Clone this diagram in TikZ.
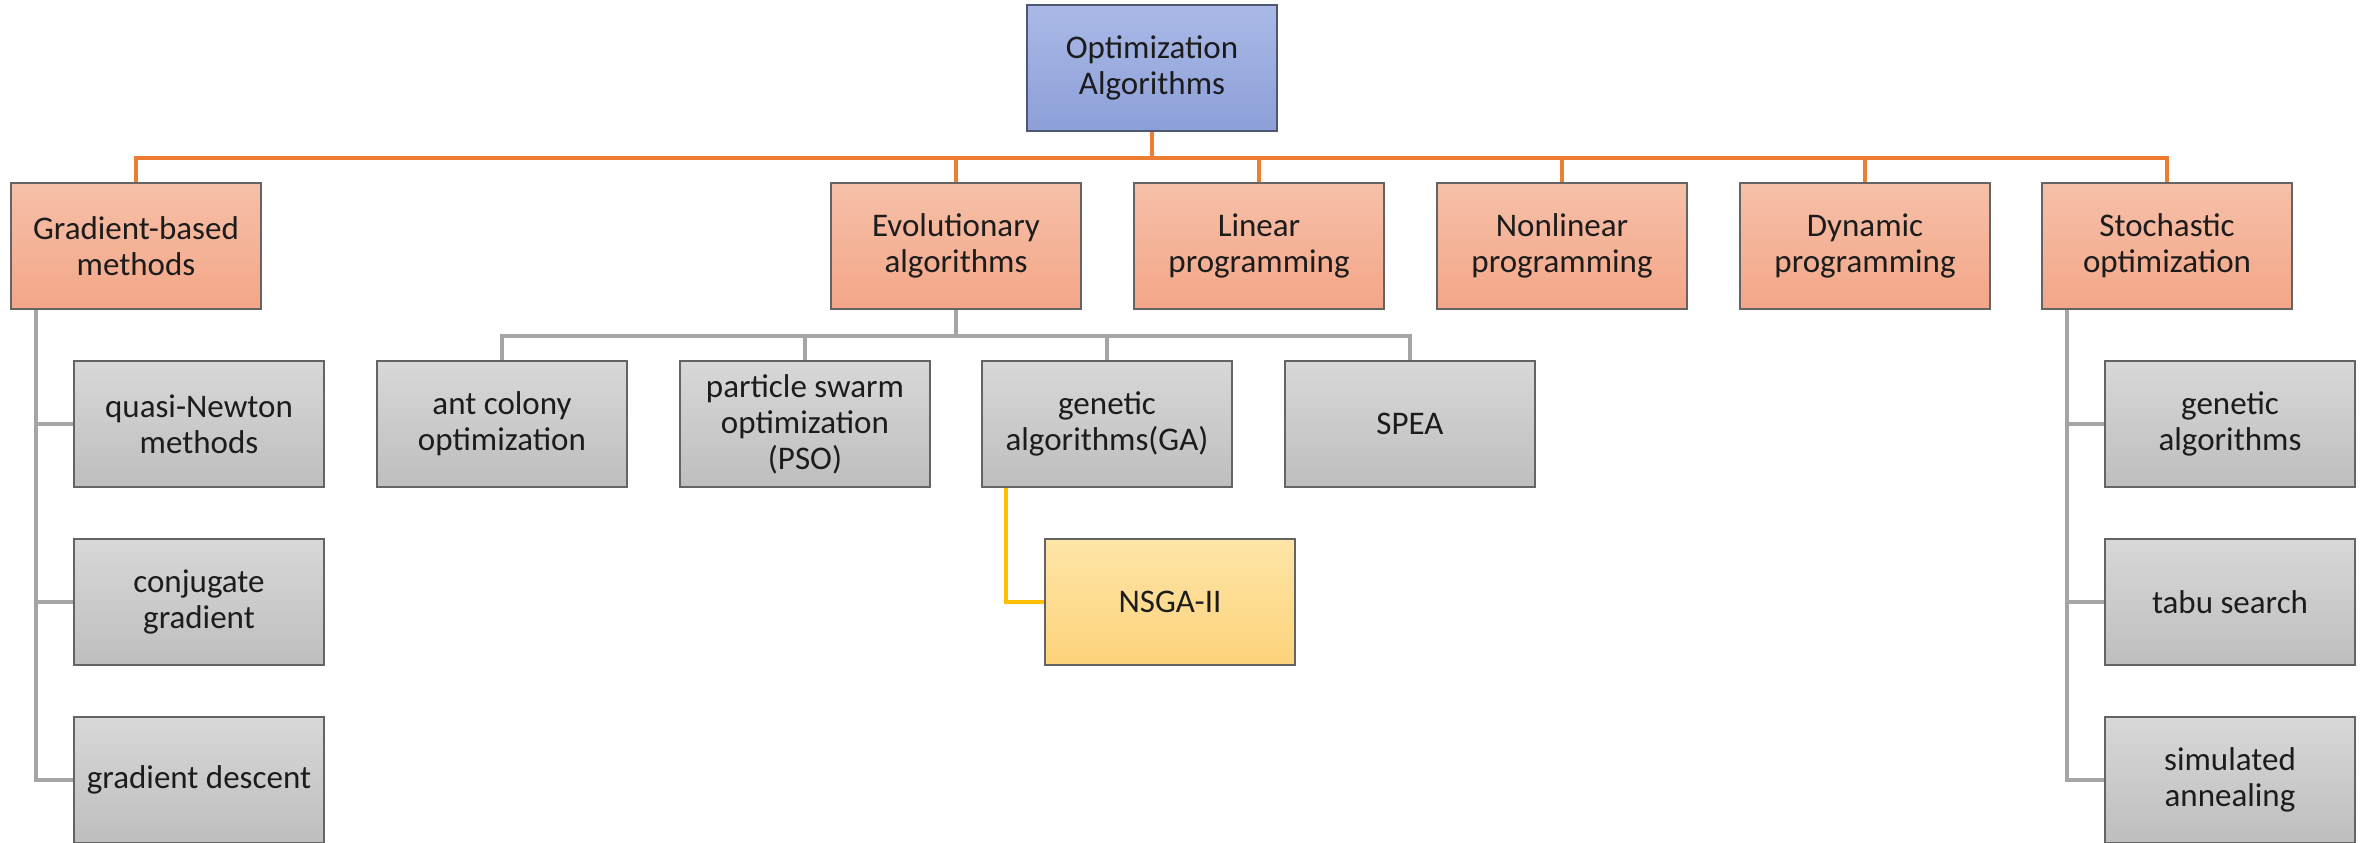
\documentclass[tikz,border=0pt]{standalone}
\usepackage{fontspec}
\setmainfont{Carlito}
\usetikzlibrary{backgrounds}

\definecolor{rootTop}{HTML}{AAB9E6}
\definecolor{rootBot}{HTML}{8C9FD8}
\definecolor{rootEdge}{HTML}{4E5872}
\definecolor{catTop}{HTML}{F6C0A9}
\definecolor{catBot}{HTML}{F3A687}
\definecolor{leafTop}{HTML}{D8D8D8}
\definecolor{leafBot}{HTML}{BEBEBE}
\definecolor{hiTop}{HTML}{FEE5A8}
\definecolor{hiBot}{HTML}{FDD37A}
\definecolor{boxEdge}{HTML}{646464}
\definecolor{txt}{HTML}{1C1C1C}
\definecolor{linkOrange}{HTML}{ED7D31}
\definecolor{linkGray}{HTML}{A5A5A5}
\definecolor{linkYellow}{HTML}{FFC000}

\begin{document}
\begin{tikzpicture}[x=1pt,y=-1pt,
  box/.style={rectangle, minimum width=250pt, minimum height=126pt,
    inner sep=0pt, align=center, draw=boxEdge, line width=1.8pt,
    font=\fontsize{33}{36}\selectfont, text=txt},
  rootbox/.style={box, top color=rootTop, bottom color=rootBot, draw=rootEdge},
  catbox/.style={box, top color=catTop, bottom color=catBot},
  leafbox/.style={box, top color=leafTop, bottom color=leafBot},
  hibox/.style={box, top color=hiTop, bottom color=hiBot},
  olink/.style={draw=linkOrange, line width=4pt},
  glink/.style={draw=linkGray, line width=4.5pt},
  ylink/.style={draw=linkYellow, line width=4pt}]

\useasboundingbox (0,0) rectangle (2369,843);

% root
\node[rootbox] (top) at (1152,68) {Optimization\\Algorithms};

% first level
\node[catbox] (grad)   at (136,246)  {Gradient-based\\methods};
\node[catbox] (evo)    at (956,246)  {Evolutionary\\algorithms};
\node[catbox] (lin)    at (1259,246) {Linear\\programming};
\node[catbox] (nonlin) at (1562,246) {Nonlinear\\programming};
\node[catbox] (dyn)    at (1865,246) {Dynamic\\programming};
\node[catbox] (stoch)  at (2167,246) {Stochastic\\optimization};

% evolutionary algorithms
\node[leafbox] (ant)  at (502,424)  {ant colony\\optimization};
\node[leafbox] (pso)  at (805,424)  {particle swarm\\optimization\\(PSO)};
\node[leafbox] (ga)   at (1107,424) {genetic\\algorithms(GA)};
\node[leafbox] (spea) at (1410,424) {SPEA};
\node[hibox]   (nsga) at (1170,602) {NSGA-II};

% gradient-based methods
\node[leafbox] (qn) at (199,424) {quasi-Newton\\methods};
\node[leafbox] (cg) at (199,602) {conjugate\\gradient};
\node[leafbox] (gd) at (199,780) {gradient descent};

% stochastic optimization
\node[leafbox] (sga)  at (2230,424) {genetic\\algorithms};
\node[leafbox] (tabu) at (2230,602) {tabu search};
\node[leafbox] (sa)   at (2230,780) {simulated\\annealing};

\begin{scope}[on background layer]
  % root to first level
  \path (top.south) ++(0,26) coordinate (busA);
  \draw[olink] (top.south) -- (busA);
  \foreach \n in {grad,evo,lin,nonlin,dyn,stoch}
    \draw[olink] (busA) -| (\n.north);

  % evolutionary algorithms to its members
  \path (evo.south) ++(0,26) coordinate (busB);
  \draw[glink] (evo.south) -- (busB);
  \foreach \n in {ant,pso,ga,spea}
    \draw[glink] (busB) -| (\n.north);

  % gradient-based trunk
  \coordinate (gTrunk) at ([xshift=26pt]grad.south west);
  \foreach \n in {qn,cg,gd}
    \draw[glink] (gTrunk) |- (\n.west);

  % stochastic trunk
  \coordinate (sTrunk) at ([xshift=26pt]stoch.south west);
  \foreach \n in {sga,tabu,sa}
    \draw[glink] (sTrunk) |- (\n.west);

  % GA to NSGA-II
  \coordinate (gaTrunk) at ([xshift=25pt]ga.south west);
  \draw[ylink] (gaTrunk) |- (nsga.west);
\end{scope}
\end{tikzpicture}
\end{document}
